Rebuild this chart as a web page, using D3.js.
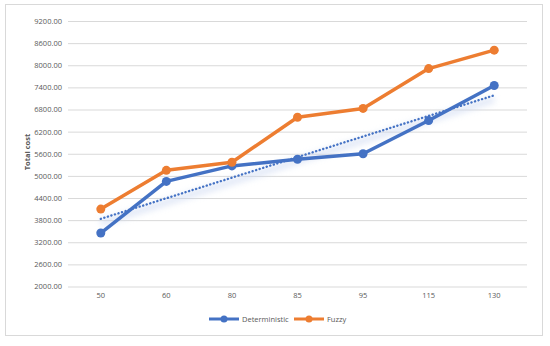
<!DOCTYPE html>
<html>
<head>
<meta charset="utf-8">
<script src="https://cdn.jsdelivr.net/npm/d3@7"></script>
<style>
  body { margin: 0; background: #fff; }
  text { font-family: "Open Sans", "Noto Sans", sans-serif; fill: #595959; }
</style>
</head>
<body>
<div id="chart"></div>
<script>
// chart data
var categories = ['50', '60', '80', '85', '95', '115', '130'];
var deterministic = [3450, 4850, 5270, 5450, 5600, 6500, 7450];
var fuzzy = [4100, 5150, 5370, 6590, 6830, 7910, 8410];
var yTicks = [2000, 2600, 3200, 3800, 4400, 5000, 5600, 6200, 6800, 7400, 8000, 8600, 9200];
var seriesNames = ['Deterministic', 'Fuzzy'];
var colors = ['#4472C4', '#ED7D31'];

var width = 550, height = 346;
var svg = d3.select('#chart').append('svg')
    .attr('width', width)
    .attr('height', height);

// chart area border
svg.append('rect')
    .attr('x', 5.5).attr('y', 4.5)
    .attr('width', 537).attr('height', 331)
    .attr('fill', '#fff')
    .attr('stroke', '#d9d9d9');

var x = d3.scaleBand().domain(categories).range([68, 527]);
var y = d3.scaleLinear().domain([2000, 9200]).range([286.5, 21]);

// gridlines + y labels
var yAxis = d3.axisLeft(y).tickValues(yTicks).tickSize(-(527 - 68)).tickPadding(6)
    .tickFormat(function(d) { return d3.format('.2f')(d); });
var gy = svg.append('g').attr('transform', 'translate(68,0)').call(yAxis);
gy.select('.domain').remove();
gy.selectAll('line').attr('stroke', '#d9d9d9').attr('stroke-width', 1);
gy.selectAll('text').style('font-size', '7.5px').attr('fill', '#595959');

// x labels
var xAxis = d3.axisBottom(x).tickSize(0).tickPadding(6);
var gx = svg.append('g').attr('transform', 'translate(0,286.5)').call(xAxis);
gx.select('.domain').remove();
gx.selectAll('text').style('font-size', '7.5px').attr('fill', '#595959');

// y title
svg.append('text')
    .attr('transform', 'translate(30,152) rotate(-90)')
    .attr('text-anchor', 'middle')
    .style('font-size', '7.5px')
    .style('font-weight', 'bold')
    .attr('fill', '#000')
    .text('Total cost');

// linear trendline of deterministic (least squares over category index)
var n = deterministic.length;
var xs = d3.range(1, n + 1);
var mx = d3.mean(xs), my = d3.mean(deterministic);
var slope = d3.sum(xs, function(v, i) { return (v - mx) * (deterministic[i] - my); }) /
            d3.sum(xs, function(v) { return (v - mx) * (v - mx); });
var icpt = my - slope * mx;
var trend = [icpt + slope * 1, icpt + slope * n];
var cx = function(c) { return x(c) + x.bandwidth() / 2; };

var defs = svg.append('defs');
defs.append('filter').attr('id', 'blur')
    .attr('x', '-10%').attr('y', '-200%').attr('width', '120%').attr('height', '500%')
  .append('feGaussianBlur').attr('stdDeviation', 3);

svg.append('line')
    .attr('x1', cx(categories[0])).attr('y1', y(trend[0]) + 4)
    .attr('x2', cx(categories[n - 1])).attr('y2', y(trend[1]) + 4)
    .attr('stroke', '#c9d6f0')
    .attr('stroke-width', 6)
    .attr('opacity', 0.6)
    .attr('filter', 'url(#blur)');

svg.append('line')
    .attr('x1', cx(categories[0])).attr('y1', y(trend[0]))
    .attr('x2', cx(categories[n - 1])).attr('y2', y(trend[1]))
    .attr('stroke', '#4472C4')
    .attr('stroke-width', 2.4)
    .attr('stroke-dasharray', '0.1 3.6')
    .attr('stroke-linecap', 'round');

var line = d3.line()
    .x(function(d, i) { return cx(categories[i]); })
    .y(function(d) { return y(d); });

[deterministic, fuzzy].forEach(function(vals, s) {
    svg.append('path')
        .datum(vals)
        .attr('d', line)
        .attr('fill', 'none')
        .attr('stroke', colors[s])
        .attr('stroke-width', 3.5)
        .attr('stroke-linejoin', 'round');
    svg.selectAll('.pt' + s)
        .data(vals)
        .enter().append('circle')
        .attr('class', 'pt' + s)
        .attr('cx', function(d, i) { return cx(categories[i]); })
        .attr('cy', function(d) { return y(d); })
        .attr('r', 4.5)
        .attr('fill', colors[s]);
});

// legend
var legX = [209, 294];
seriesNames.forEach(function(name, s) {
    var g = svg.append('g').attr('transform', 'translate(' + legX[s] + ',319)');
    g.append('line').attr('x1', 0).attr('x2', 30).attr('y1', 0).attr('y2', 0)
        .attr('stroke', colors[s]).attr('stroke-width', 3);
    g.append('circle').attr('cx', 15).attr('cy', 0).attr('r', 3.5).attr('fill', colors[s]);
    g.append('text').attr('x', 33).attr('y', 0).attr('dy', '0.35em')
        .style('font-size', '7.5px').text(name);
});
</script>
</body>
</html>
